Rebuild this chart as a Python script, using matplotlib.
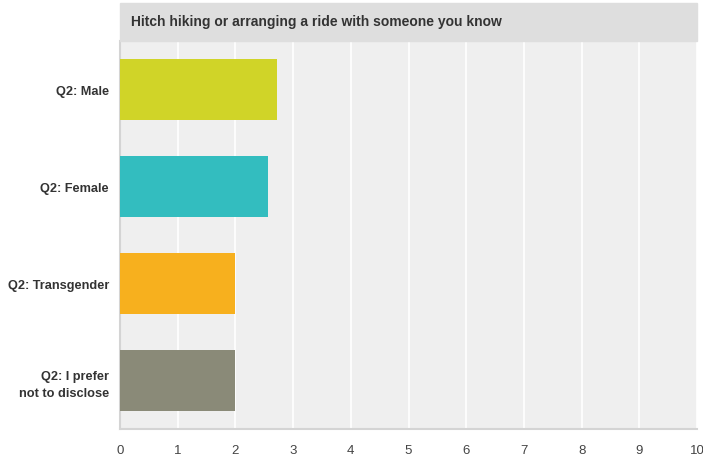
import matplotlib
matplotlib.use("Agg")
import matplotlib.pyplot as plt
from matplotlib.patches import Rectangle

plt.rcParams["font.family"] = ["Liberation Sans", "DejaVu Sans"]

# ── Data ──────────────────────────────────────────────────────────────────────
categories = ["Q2: Male", "Q2: Female", "Q2: Transgender", "Q2: I prefer\nnot to disclose"]
values = [2.72, 2.57, 2.0, 2.0]
colors = ["#d0d428", "#33bdbf", "#f7b01e", "#8a8a78"]
xticks = list(range(0, 11))
title = "Hitch hiking or arranging a ride with someone you know"

W, H, DPI = 703, 464, 100
L, R, TOP, BOT = 120, 697, 42, 430

fig = plt.figure(figsize=(W / DPI, H / DPI), dpi=DPI)
ax = fig.add_axes([L / W, 1 - BOT / H, (R - L) / W, (BOT - TOP) / H])
ax.set_facecolor("#efefef")

ypos = range(len(categories))
ax.barh(ypos, values, height=0.63, color=colors, zorder=3)
ax.set_ylim(len(categories) - 0.5, -0.5)
ax.set_xlim(0, 10)

ax.set_xticks(xticks)
ax.set_xticklabels([str(t) for t in xticks], fontsize=9.5, color="#444444")
ax.set_yticks(list(ypos))
ax.set_yticklabels(categories, fontsize=9.2, fontweight="bold", color="#333333",
                   linespacing=1.55)
ax.tick_params(axis="both", length=0)
ax.tick_params(axis="x", pad=11)
ax.tick_params(axis="y", pad=8)

ax.grid(axis="x", color="white", linewidth=1.2, zorder=0)
for side in ["top", "right"]:
    ax.spines[side].set_visible(False)
for side in ["left", "bottom"]:
    ax.spines[side].set_color("#d4d4d4")
    ax.spines[side].set_linewidth(1.5)

# title bar
fig.patches.append(Rectangle((L / W, 1 - TOP / H), (R - L) / W, (TOP - 4) / H,
                             transform=fig.transFigure, color="#dedede", zorder=0))
fig.text((L + 11) / W, 1 - 22 / H, title, fontsize=10, fontweight="bold",
         color="#333333", va="center", ha="left")

fig.savefig("out.png", dpi=DPI)
